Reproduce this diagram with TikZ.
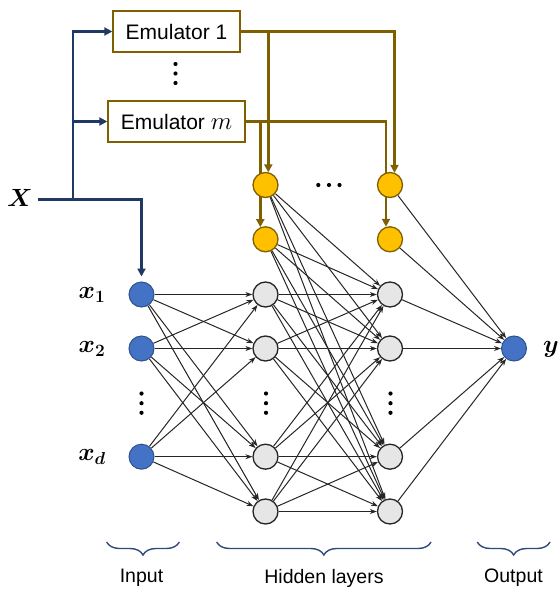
\documentclass[tikz,border=0pt]{standalone}
\usepackage[no-math]{fontspec}
\setmainfont{Liberation Sans}
\usepackage{amsmath,bm}
\usetikzlibrary{arrows.meta,decorations.pathreplacing}
\definecolor{navyc}{HTML}{1F3864}
\definecolor{bracec}{HTML}{2F4B7C}
\definecolor{brownc}{HTML}{7F6000}
\definecolor{nodeblue}{HTML}{4472C4}
\definecolor{blueborder}{HTML}{2F528F}
\definecolor{nodegray}{HTML}{E7E6E6}
\definecolor{edgec}{HTML}{262626}
\definecolor{nodeorange}{HTML}{FFC000}
\pgfdeclarelayer{bg}
\pgfsetlayers{bg,main}
\begin{document}
\begin{tikzpicture}[x=1pt,y=-1pt,
  inp/.style={circle,draw=blueborder,fill=nodeblue,line width=1pt,minimum size=25pt,inner sep=0pt},
  hid/.style={circle,draw=edgec,fill=nodegray,line width=1.3pt,minimum size=25pt,inner sep=0pt},
  orn/.style={circle,draw=brownc,fill=nodeorange,line width=1.3pt,minimum size=25pt,inner sep=0pt},
  emubox/.style={draw=brownc,line width=1.4pt,fill=white,font=\fontsize{21}{25}\selectfont,inner sep=0pt,minimum height=41pt},
  nnedge/.style={draw=edgec,line width=1pt,-{Stealth[length=7pt,width=5pt]}},
  navyline/.style={draw=navyc,line width=2.3pt,-{Triangle[length=8pt,width=8pt]}},
  brownline/.style={draw=brownc,line width=2.4pt,-{Triangle[length=8pt,width=8pt]}},
  mlabel/.style={font=\fontsize{25}{29}\selectfont},
  tlabel/.style={font=\fontsize{19.5}{23}\selectfont},
  bracedeco/.style={draw=bracec,line width=1.4pt,decorate,decoration={brace,mirror,amplitude=13pt}},
  dotc/.style={fill=black}
]
\useasboundingbox (0,0) rectangle (558,589);

% emulators
\node[emubox,minimum width=127pt] (e1) at (176.5,31.5) {Emulator 1};
\node[emubox,minimum width=137pt] (em) at (176.5,121.5) {Emulator {\fontsize{24}{28}\selectfont$m$}};

% input nodes
\node[inp] (i1) at (141.5,294.5) {};
\node[inp] (i2) at (141.5,348.5) {};
\node[inp] (i3) at (141.5,456.7) {};

% hidden layer 1
\node[orn] (a1) at (265.5,185) {};
\node[orn] (a2) at (265.5,239.3) {};
\node[hid] (h1) at (265.5,294.5) {};
\node[hid] (h2) at (265.5,348.5) {};
\node[hid] (h3) at (265.5,456.7) {};
\node[hid] (h4) at (265.5,511.5) {};

% hidden layer 2
\node[orn] (b1) at (390,185) {};
\node[orn] (b2) at (390,239.3) {};
\node[hid] (g1) at (390,294.5) {};
\node[hid] (g2) at (390,348.5) {};
\node[hid] (g3) at (390,456.7) {};
\node[hid] (g4) at (390,511.5) {};

% output
\node[inp] (o) at (514,348.5) {};

% labels
\node[mlabel] (X) at (20,198) {$\bm{X}$};
\node[mlabel] (l1) at (92,295) {$\bm{x}_{\bm{1}}$};
\node[mlabel] (l2) at (92,349) {$\bm{x}_{\bm{2}}$};
\node[mlabel] (ld) at (92,457) {$\bm{x}_{\bm{d}}$};
\node[mlabel] (ly) at (551,349) {$\bm{y}$};

\node[tlabel] (tin) at (141.5,578) {Input};
\node[tlabel] (thid) at (324,578) {Hidden layers};
\node[tlabel] (tout) at (513.5,578) {Output};

% braces
\draw[bracedeco] (106.7,542) -- (179.3,542);
\draw[bracedeco] (216.7,542) -- (431,542);
\draw[bracedeco] (477.3,542) -- (550,542);

% dots
\foreach \xx in {141.5,266,390.5}{
  \fill[dotc] (\xx,393.5) circle (2.1);
  \fill[dotc] (\xx,403.2) circle (2.1);
  \fill[dotc] (\xx,412.8) circle (2.1);
}
\fill[dotc] (175.5,64) circle (2.1);
\fill[dotc] (175.5,73.5) circle (2.1);
\fill[dotc] (175.5,83) circle (2.1);
\fill[dotc] (318.3,185) circle (2.1);
\fill[dotc] (329,185) circle (2.1);
\fill[dotc] (339.5,185) circle (2.1);

% coordinates for connectors
\coordinate (xs) at (38.3,199.5);
\coordinate (xj) at (73.3,199.5);
\coordinate (c1) at (268.3,31.5);
\coordinate (cm) at (260.3,121.5);

\begin{pgfonlayer}{bg}
% network edges
\foreach \s in {i1,i2,i3}{
  \foreach \t in {h1,h2,h3,h4}{
    \draw[nnedge] (\s) -- (\t);
  }
}
\foreach \s in {a1,a2,h1,h2,h3,h4}{
  \foreach \t in {g1,g2,g3,g4}{
    \draw[nnedge] (\s) -- (\t);
  }
}
\foreach \s in {b1,b2,g1,g2,g3,g4}{
  \draw[nnedge] (\s) -- (o);
}

% navy lines
\draw[navyline] (xs) -| ([yshift=5pt]i1.north);
\draw[navyline] (xj) |- (e1.west);
\draw[navyline] (xj |- em.west) -- (em.west);

% brown lines
\draw[brownline] (e1.east) -| ([xshift=4.5pt,yshift=-1pt]b1.north);
\draw[brownline] (c1) -- ([xshift=2.8pt,yshift=-0.5pt]a1.north);
\draw[brownline] (em.east) -| ([xshift=-4pt,yshift=-0.6pt]b2.north);
\draw[brownline] (cm) -- ([xshift=-5.2pt,yshift=-1pt]a2.north);
\end{pgfonlayer}
\end{tikzpicture}
\end{document}
